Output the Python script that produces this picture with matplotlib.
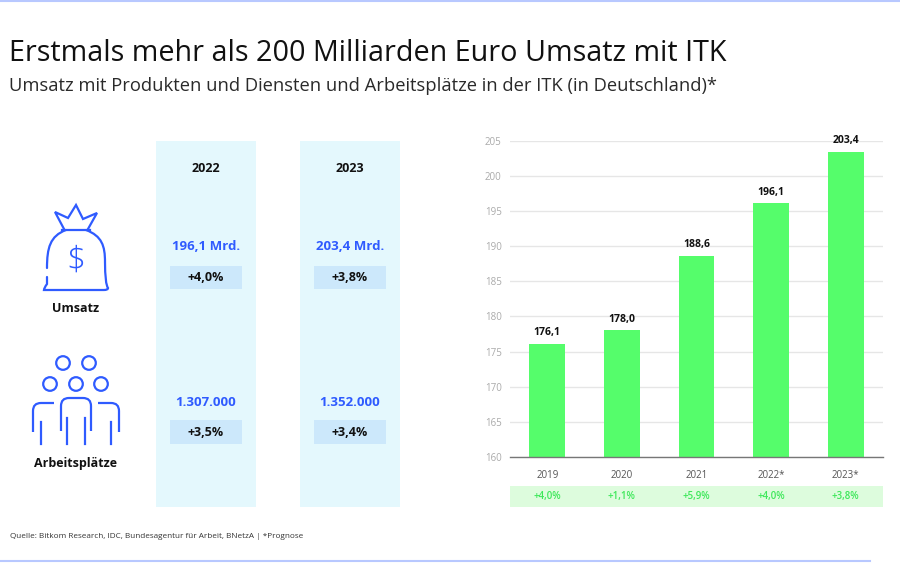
import matplotlib
matplotlib.use('Agg')
import matplotlib.pyplot as plt
from matplotlib.patches import Rectangle, Circle, PathPatch
from matplotlib.path import Path

plt.rcParams['font.family'] = ['Open Sans', 'DejaVu Sans']

# Data
years = ['2019', '2020', '2021', '2022*', '2023*']
umsatz = [176.1, 178.0, 188.6, 196.1, 203.4]
umsatz_labels = ['176,1', '178,0', '188,6', '196,1', '203,4']
growth = ['+4,0%', '+1,1%', '+5,9%', '+4,0%', '+3,8%']

table_years = ['2022', '2023']
table_umsatz = ['196,1 Mrd.', '203,4 Mrd.']
table_umsatz_growth = ['+4,0%', '+3,8%']
table_jobs = ['1.307.000', '1.352.000']
table_jobs_growth = ['+3,5%', '+3,4%']

title = 'Erstmals mehr als 200 Milliarden Euro Umsatz mit ITK'
subtitle = 'Umsatz mit Produkten und Diensten und Arbeitsplätze in der ITK (in Deutschland)*'
source = 'Quelle: Bitkom Research, IDC, Bundesagentur für Arbeit, BNetzA | *Prognose'

# Colours
BLUE = '#2f5bff'
PANEL = '#e4f8fd'
BOX = '#cce8fb'
GREEN = '#55fd6b'
STRIP = '#ddfcdd'
STRIP_TXT = '#3ee85a'
LINE = '#b8c8ff'

W, H = 900, 563
fig = plt.figure(figsize=(W / 100, H / 100), dpi=100)

# background axes in pixel coordinates
bg = fig.add_axes([0, 0, 1, 1])
bg.set_xlim(0, W)
bg.set_ylim(H, 0)
bg.axis('off')

bg.plot([0, W], [1, 1], color=LINE, lw=1.5)
bg.plot([0, 870], [561, 561], color=LINE, lw=1.5)

bg.text(9, 61, title, fontsize=20.7, va='baseline', ha='left', color='#111111')
bg.text(9, 91, subtitle, fontsize=13.2, va='baseline', ha='left', color='#2a2a2a')
bg.text(10, 537, source, fontsize=5.9, va='center', ha='left', color='#333333')

# table columns
col_x = [206, 350]
for i, cx in enumerate(col_x):
    bg.add_patch(Rectangle((cx - 50, 141), 100, 366, color=PANEL, lw=0))
    bg.text(cx, 168, table_years[i], fontsize=9, fontweight='bold', ha='center', va='center', color='#111111')
    bg.text(cx, 247, table_umsatz[i], fontsize=9.5, fontweight='bold', ha='center', va='center', color=BLUE)
    bg.add_patch(Rectangle((cx - 36, 266), 72, 23, color=BOX, lw=0))
    bg.text(cx, 277.5, table_umsatz_growth[i], fontsize=9, fontweight='bold', ha='center', va='center', color='#111111')
    bg.text(cx, 402, table_jobs[i], fontsize=9.5, fontweight='bold', ha='center', va='center', color=BLUE)
    bg.add_patch(Rectangle((cx - 36, 420), 72, 24, color=BOX, lw=0))
    bg.text(cx, 432, table_jobs_growth[i], fontsize=9, fontweight='bold', ha='center', va='center', color='#111111')

bg.text(76, 309, 'Umsatz', fontsize=9, fontweight='bold', ha='center', va='center', color='#111111')
bg.text(76, 463, 'Arbeitsplätze', fontsize=9, fontweight='bold', ha='center', va='center', color='#111111')

# money bag icon
ilw = 1.6
bag = Path([(66, 230), (50, 236), (47, 248), (47, 268),
            (47, 277), (47, 284), (44, 288), (44, 290), (48, 290), (104, 290),
            (108, 290), (108, 288), (105, 284), (105, 262), (105, 246), (102, 236), (86, 230)],
           [Path.MOVETO, Path.CURVE4, Path.CURVE4, Path.CURVE4,
            Path.MOVETO, Path.LINETO, Path.CURVE3, Path.CURVE3, Path.CURVE3, Path.LINETO,
            Path.CURVE3, Path.CURVE3, Path.CURVE3, Path.LINETO, Path.CURVE4, Path.CURVE4, Path.CURVE4])
bg.add_patch(PathPatch(bag, fill=False, ec=BLUE, lw=ilw, capstyle='round'))
bg.plot([64, 55, 68, 76, 83, 97, 88], [229, 212, 218, 205, 219, 213, 229],
        color=BLUE, lw=ilw, solid_joinstyle='miter')
bg.plot([62, 90], [230, 230], color=BLUE, lw=ilw)
bg.text(76, 261, '$', fontsize=24, ha='center', va='center', color=BLUE, fontweight='light')

# people icon
for hx, hy in [(63, 363), (89, 363), (50, 384), (76, 384), (101, 384)]:
    bg.add_patch(Circle((hx, hy), 6.8, fill=False, ec=BLUE, lw=ilw))
# centre torso
torso = Path([(61, 431), (61, 406), (61, 398), (69, 398), (83, 398), (91, 398), (91, 406), (91, 431)],
             [Path.MOVETO, Path.LINETO, Path.CURVE3, Path.CURVE3, Path.LINETO, Path.CURVE3, Path.CURVE3, Path.LINETO])
bg.add_patch(PathPatch(torso, fill=False, ec=BLUE, lw=ilw))
bg.plot([67, 67], [418, 444], color=BLUE, lw=ilw)
bg.plot([85, 85], [418, 444], color=BLUE, lw=ilw)
# side torsos
left = Path([(33, 432), (33, 411), (33, 403), (41, 403), (54, 403)],
            [Path.MOVETO, Path.LINETO, Path.CURVE3, Path.CURVE3, Path.LINETO])
right = Path([(119, 432), (119, 411), (119, 403), (111, 403), (98, 403)],
             [Path.MOVETO, Path.LINETO, Path.CURVE3, Path.CURVE3, Path.LINETO])
bg.add_patch(PathPatch(left, fill=False, ec=BLUE, lw=ilw))
bg.add_patch(PathPatch(right, fill=False, ec=BLUE, lw=ilw))
bg.plot([41, 41], [422, 444], color=BLUE, lw=ilw)
bg.plot([111, 111], [422, 444], color=BLUE, lw=ilw)

# bar chart
ax = fig.add_axes([510 / W, 1 - 457 / H, 373 / W, 316.3 / H])
x = range(len(years))
ax.bar(x, umsatz, width=0.48, color=GREEN, zorder=2)
ax.set_ylim(160, 205)
ax.set_xlim(-0.5, 4.5)
ax.set_yticks(range(160, 206, 5))
ax.grid(axis='y', color='#e6e6e6', lw=1, zorder=0)
for s in ['top', 'right', 'left']:
    ax.spines[s].set_visible(False)
ax.spines['bottom'].set_color('#777777')
ax.spines['bottom'].set_linewidth(1)
ax.tick_params(axis='y', length=0, labelsize=7, labelcolor='#aaaaaa', pad=6)
ax.tick_params(axis='x', length=0, labelsize=7, labelcolor='#555555', pad=9)
ax.set_xticks(list(x))
ax.set_xticklabels(years)
for xi, v, lab in zip(x, umsatz, umsatz_labels):
    ax.text(xi, v + 0.8, lab, ha='center', va='bottom', fontsize=7.5, fontweight='bold', color='#111111')

# growth strip
sx = fig.add_axes([510 / W, 1 - 507 / H, 373 / W, 21 / H])
sx.set_xlim(-0.5, 4.5)
sx.set_ylim(0, 1)
sx.set_facecolor(STRIP)
for s in sx.spines.values():
    s.set_visible(False)
sx.set_xticks([])
sx.set_yticks([])
for xi, g in zip(x, growth):
    sx.text(xi, 0.5, g, ha='center', va='center', fontsize=7, fontweight='semibold', color=STRIP_TXT)

fig.savefig('out.png', dpi=100, facecolor='white')
